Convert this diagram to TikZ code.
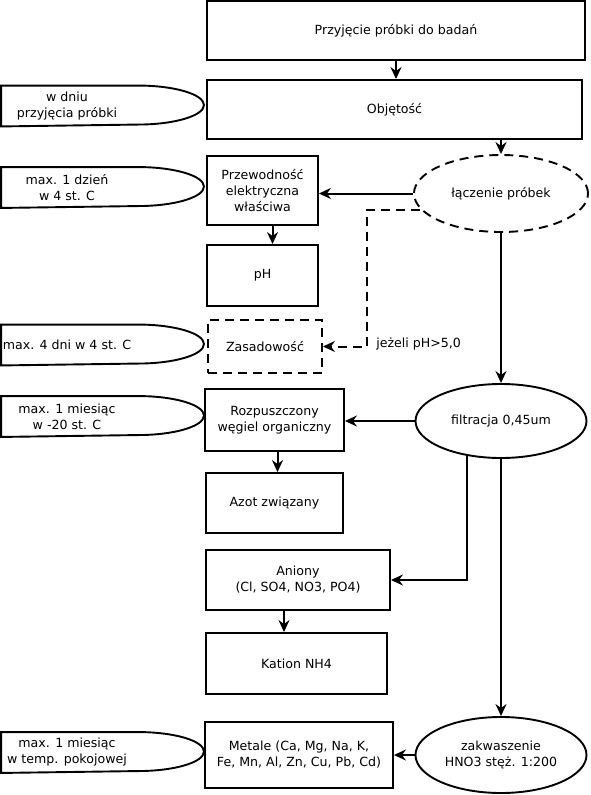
\documentclass[tikz,border=0pt]{standalone}
\usepackage{fontspec}
\setmainfont{DejaVu Sans}
\usetikzlibrary{arrows.meta,shapes.geometric}
\newcommand{\flowFont}[0]{\fontsize{12.6}{16}\selectfont}

\begin{document}
\begin{tikzpicture}[x=1pt, y=1pt, line width=1.9pt, font=\flowFont]
  \tikzset{box/.style={draw, align=center, inner sep=2pt},
           oval/.style={draw, ellipse, align=center, inner sep=0pt},
           keep/.style={align=center, inner sep=0pt, minimum width=130pt, minimum height=39pt},
           arr/.style={line width=2pt, -{Stealth[length=12pt,width=11pt,inset=4pt]}},
           dashy/.style={dash pattern=on 9pt off 6pt}}
  \useasboundingbox (0,0) rectangle (590,-795);
  \node[box, minimum width=378pt, minimum height=59pt] (start) at (396,-30.5) {Przyjęcie próbki do badań};
  \node[box, minimum width=375pt, minimum height=59pt] (vol) at (394.5,-109.5) {Objętość};
  \node[oval, dashy, minimum width=174pt, minimum height=77pt] (merge) at (501,-193.5) {łączenie próbek};
  \node[box, minimum width=111pt, minimum height=69pt] (cond) at (262.5,-190.5) {Przewodność\\elektryczna\\właściwa};
  \node[box, minimum width=111pt, minimum height=61pt] (ph) at (262.5,-275.5) {pH};
  \node[box, dashy, minimum width=114pt, minimum height=53pt] (alk) at (265,-346.5) {Zasadowość};
  \node[anchor=west] (cond_lbl) at (372,-344) {jeżeli pH>5,0};
  \node[oval, minimum width=171pt, minimum height=74pt] (filt) at (501,-421) {filtracja 0,45um};
  \node[box, minimum width=139pt, minimum height=62pt] (doc) at (274.5,-420) {Rozpuszczony\\węgiel organiczny};
  \node[box, minimum width=137pt, minimum height=60pt] (nitro) at (274.5,-503) {Azot związany};
  \node[box, minimum width=184pt, minimum height=60pt] (anion) at (298,-580) {Aniony\\(Cl, SO4, NO3, PO4)};
  \node[box, minimum width=181pt, minimum height=61pt] (nh4) at (296.5,-663.5) {Kation NH4};
  \node[oval, minimum width=171pt, minimum height=76pt] (acid) at (501,-755) {zakwaszenie\\HNO3 stęż. 1:200};
  \node[box, minimum width=188pt, minimum height=66pt] (metal) at (299,-755) {Metale (Ca, Mg, Na, K,\\Fe, Mn, Al, Zn, Cu, Pb, Cd)};

  \node[keep] (keep1) at (67,-106) {w dniu\\przyjęcia próbki};
  \node[keep] (keep2) at (67,-187.5) {max. 1 dzień\\w 4 st. C};
  \node[keep] (keep3) at (67,-345) {max. 4 dni w 4 st. C};
  \node[keep] (keep4) at (67,-416.5) {max. 1 miesiąc\\w -20 st. C};
  \node[keep] (keep5) at (67,-752.5) {max. 1 miesiąc\\w temp. pokojowej};
  \foreach \k in {keep1,keep2,keep3,keep4,keep5}
    \draw (\k.north west) -- ([xshift=5pt]\k.north east)
          arc[start angle=90, end angle=-90, x radius=66pt, y radius=19.5pt] -- (\k.south west) -- cycle;

  \coordinate (turn) at (367,-210);
  \draw[arr] (start.south) -- (start.south |- vol.north);
  \draw[arr] (merge.north |- vol.south) -- (merge.north);
  \draw[arr] (merge.west) -- (merge.west -| cond.east);
  \draw[arr] ([xshift=10pt]cond.south) -- ([xshift=10pt]ph.north);
  \draw[arr, dashy] (merge.191 |- turn) -- (turn) |- (alk.east);
  \draw[arr] (merge.south) -- (filt.north);
  \draw[arr] (filt.west) -- (filt.west -| doc.east);
  \draw[arr] ([xshift=3pt]doc.south) -- ([xshift=3pt]nitro.north);
  \draw[arr] (filt.226) |- (anion.east);
  \draw[arr] ([xshift=-14pt]anion.south) -- ([xshift=-14pt]anion.south |- nh4.north);
  \draw[arr] (filt.south) -- (acid.north);
  \draw[arr] (acid.west) -- (metal.east);
\end{tikzpicture}
\end{document}
